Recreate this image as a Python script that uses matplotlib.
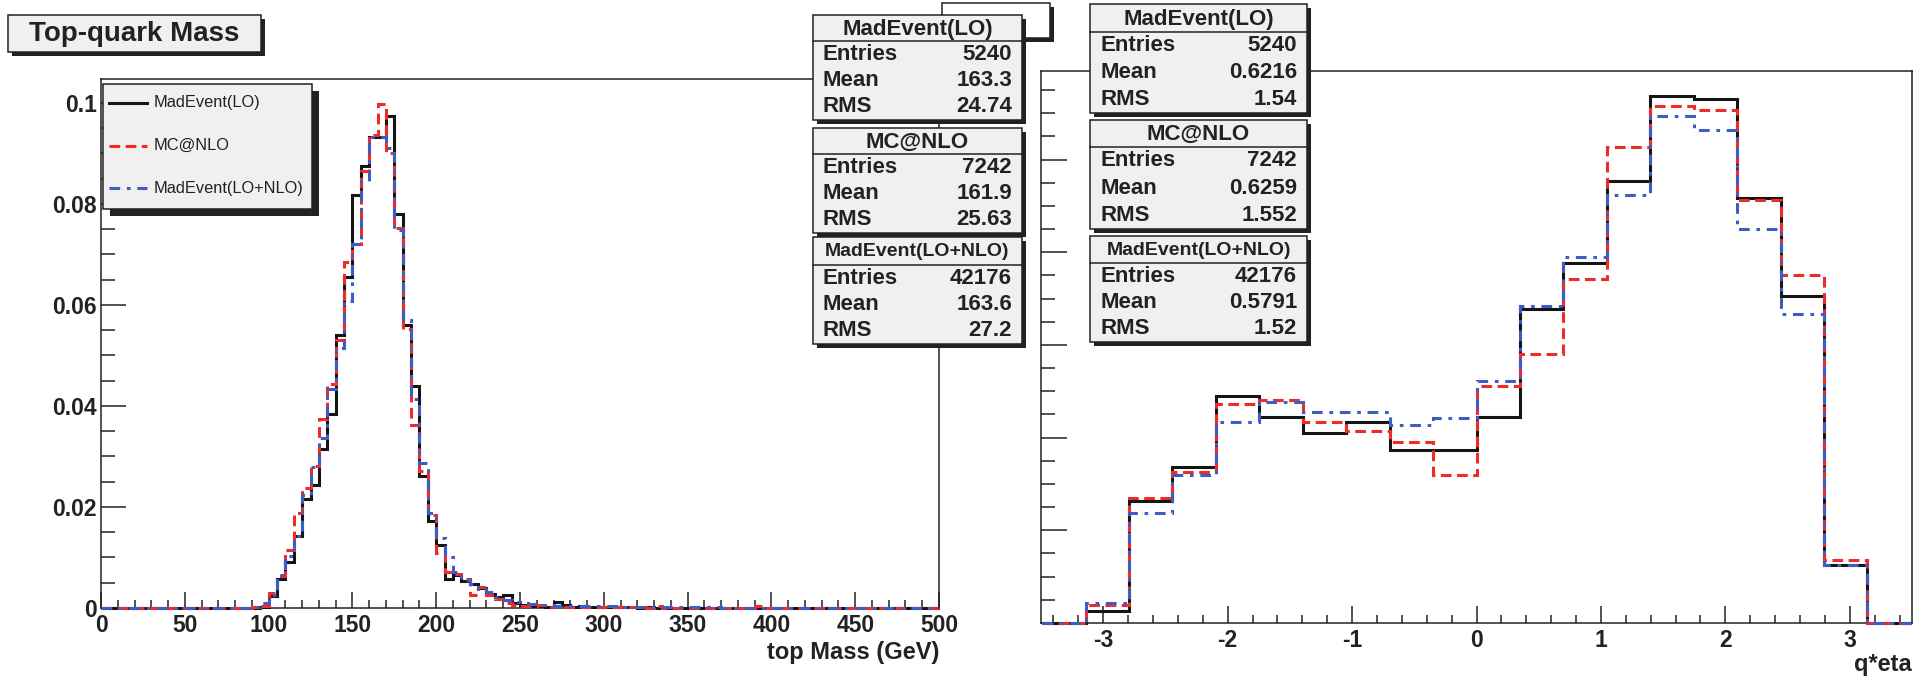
import numpy as np
import matplotlib
matplotlib.use("Agg")
import matplotlib.pyplot as plt
from matplotlib.patches import Rectangle
from matplotlib.lines import Line2D
from matplotlib.ticker import MultipleLocator, FuncFormatter

plt.rcParams['font.family'] = ['Liberation Sans', 'DejaVu Sans']
plt.rcParams['axes.unicode_minus'] = False

W, H = 1927, 679

# ---- data: top-quark mass, 5 GeV bins from 0 to 500 (normalised) ----
mass_edges = np.arange(0, 505, 5)
mass_lo = ([0] * 19 + [0.0002] +
           [0.0024, 0.0057, 0.0092, 0.0142, 0.0216, 0.0244, 0.0314, 0.0385, 0.0540, 0.0655] +
           [0.0818, 0.0875, 0.0932, 0.0932, 0.0975, 0.0780, 0.0561, 0.0439, 0.0261, 0.0172] +
           [0.0124, 0.0058, 0.0065, 0.0054, 0.0048, 0.0040, 0.0028, 0.0022, 0.0026, 0.0009] +
           [0.0005, 0.0003, 0.0003, 0.0002, 0.0012, 0.0005, 0.0002, 0.0004, 0.0002, 0.0001] +
           [0.0002, 0.0001, 0.0001, 0.0001, 0, 0.0001, 0, 0, 0, 0] +
           [0] * 30)
mass_nlo = ([0] * 18 + [0.0001, 0.0003] +
            [0.0030, 0.0063, 0.0114, 0.0188, 0.0238, 0.0282, 0.0375, 0.0444, 0.0530, 0.0685] +
            [0.0720, 0.0865, 0.0937, 0.0998, 0.0900, 0.0753, 0.0553, 0.0363, 0.0271, 0.0185] +
            [0.0108, 0.0072, 0.0068, 0.0058, 0.0025, 0.0042, 0.0025, 0.0017, 0.0009, 0.0005] +
            [0.0004, 0.0003, 0.0005, 0.0002, 0.0003, 0.0002, 0.0002, 0.0002, 0.0001, 0.0002] +
            [0.0001, 0.0001, 0.0001, 0.0001, 0.0001, 0, 0.0004, 0, 0, 0] +
            [0, 0, 0, 0, 0, 0, 0, 0, 0.0004, 0] +
            [0] * 20)
mass_lonlo = ([0] * 18 + [0.0002, 0.0010] +
              [0.0025, 0.0066, 0.0102, 0.0142, 0.0224, 0.0280, 0.0337, 0.0434, 0.0515, 0.0607] +
              [0.0720, 0.0845, 0.0932, 0.0932, 0.0910, 0.0749, 0.0570, 0.0413, 0.0287, 0.0188] +
              [0.0139, 0.0101, 0.0072, 0.0055, 0.0048, 0.0038, 0.0032, 0.0022, 0.0015, 0.0012] +
              [0.0009, 0.0007, 0.0005, 0.0005, 0.0004, 0.0004, 0.0004, 0.0004, 0.0003, 0.0003] +
              [0.0003, 0.0003, 0.0002, 0.0002, 0.0002, 0.0001, 0.0001, 0.0001, 0.0001, 0.0001] +
              [0.0001, 0.0001, 0.0001, 0.0001, 0, 0, 0, 0, 0, 0] +
              [0] * 20)

# ---- data: q*eta, 20 bins of pi/9 ----
eta_edges = np.linspace(-10 * np.pi / 9, 10 * np.pi / 9, 21)
eta_lo = [0, 0.0026, 0.0264, 0.0337, 0.0489, 0.0445, 0.0409, 0.0434, 0.0374, 0.0374,
          0.0445, 0.0677, 0.0777, 0.0954, 0.1137, 0.1130, 0.0917, 0.0705, 0.0126, 0]
eta_nlo = [0, 0.0038, 0.0269, 0.0326, 0.0472, 0.0482, 0.0434, 0.0414, 0.0391, 0.0319,
           0.0511, 0.0581, 0.0743, 0.1026, 0.1115, 0.1106, 0.0913, 0.0751, 0.0137, 0]
eta_lonlo = [0, 0.0043, 0.0238, 0.0319, 0.0434, 0.0477, 0.0455, 0.0455, 0.0428, 0.0443,
             0.0522, 0.0683, 0.0790, 0.0923, 0.1094, 0.1064, 0.0851, 0.0666, 0.0126, 0]

names = ['MadEvent(LO)', 'MC@NLO', 'MadEvent(LO+NLO)']
entries = [5240, 7242, 42176]
mass_mean = [163.3, 161.9, 163.6]
mass_rms = [24.74, 25.63, 27.2]
eta_mean = [0.6216, 0.6259, 0.5791]
eta_rms = [1.54, 1.552, 1.52]

colors = ['#151515', '#ee2b2b', '#3d5cc4']
styles = ['-', (0, (3.5, 1.8)), (0, (3.5, 2.2, 1.2, 2.2))]

def fx(x):
    return x / W

def fy(y):
    return 1 - y / H

fig = plt.figure(figsize=(W / 100, H / 100), dpi=100)
fig.patch.set_facecolor('white')

ax1 = fig.add_axes([fx(101), fy(608), fx(939) - fx(101), fy(79) - fy(608)])
ax2 = fig.add_axes([fx(1041), fy(623), fx(1912) - fx(1041), fy(71) - fy(623)])

for vals, c, ls in zip([mass_lo, mass_nlo, mass_lonlo], colors, styles):
    ax1.stairs(vals, mass_edges, baseline=None, color=c, linestyle=ls, linewidth=2.2,
               zorder=3, clip_on=False)
for vals, c, ls in zip([eta_lo, eta_nlo, eta_lonlo], colors, styles):
    ax2.stairs(vals, eta_edges, baseline=None, color=c, linestyle=ls, linewidth=2.2,
               zorder=3, clip_on=False)

ax1.set_xlim(0, 500)
ax1.set_ylim(0, 0.10475)
ax2.set_xlim(-3.5, 3.5)
ax2.set_ylim(0, 0.1191)

for ax in (ax1, ax2):
    for s in ax.spines.values():
        s.set_color('#222')
        s.set_linewidth(1.1)
    ax.tick_params(which='both', direction='in', color='#222', width=1.1,
                   labelsize=16.5, top=False, right=False)

ax1.xaxis.set_major_locator(MultipleLocator(50))
ax1.xaxis.set_minor_locator(MultipleLocator(10))
ax1.yaxis.set_major_locator(MultipleLocator(0.02))
ax1.yaxis.set_minor_locator(MultipleLocator(0.005))
ax1.yaxis.set_major_formatter(FuncFormatter(lambda v, p: f'{v:g}'))
ax1.tick_params(axis='y', which='major', length=18, pad=3)
ax1.tick_params(axis='y', which='minor', length=10)
ax1.tick_params(axis='x', which='major', length=11.5, pad=4)
ax1.tick_params(axis='x', which='minor', length=6)

ax2.xaxis.set_major_locator(MultipleLocator(1))
ax2.xaxis.set_minor_locator(MultipleLocator(0.2))
ax2.yaxis.set_major_locator(MultipleLocator(0.02))
ax2.yaxis.set_minor_locator(MultipleLocator(0.005))
ax2.xaxis.set_major_formatter(FuncFormatter(lambda v, p: f'{v:g}'))
ax2.tick_params(axis='y', which='major', length=19, labelleft=False)
ax2.tick_params(axis='y', which='minor', length=10)
ax2.tick_params(axis='x', which='major', length=12.5, pad=4)
ax2.tick_params(axis='x', which='minor', length=5.5)

for ax in (ax1, ax2):
    for lab in ax.get_xticklabels() + ax.get_yticklabels():
        lab.set_fontweight('bold')
        lab.set_color('#222')

fig.text(fx(939), fy(659), 'top Mass (GeV)', ha='right', va='baseline',
         fontsize=17, fontweight='bold', color='#222')
fig.text(fx(1912), fy(671), 'q*eta', ha='right', va='baseline',
         fontsize=17, fontweight='bold', color='#222')


def box(x0, y0, x1, y1, shadow, face='#f0f0f0'):
    fig.add_artist(Rectangle((fx(x0 + shadow), fy(y1 + shadow)), fx(x1 - x0), fy(y0) - fy(y1),
                             transform=fig.transFigure, facecolor='#222', edgecolor='none'))
    fig.add_artist(Rectangle((fx(x0), fy(y1)), fx(x1 - x0), fy(y0) - fy(y1),
                             transform=fig.transFigure, facecolor=face, edgecolor='#222',
                             linewidth=1.1))


def stats_box(x0, x1, top, sep, bottom, title, n, mean, rms, tsize):
    box(x0, top, x1, bottom, 4)
    fig.add_artist(Line2D([fx(x0), fx(x1)], [fy(sep), fy(sep)], transform=fig.transFigure,
                          color='#222', linewidth=1.1))
    fig.text(fx((x0 + x1) / 2), fy((top + sep) / 2 + 1), title, ha='center', va='center',
             fontsize=tsize, fontweight='bold', color='#222')
    step = (bottom - sep) / 3
    for k, (lab, v) in enumerate(zip(['Entries', 'Mean', 'RMS'], [n, mean, rms])):
        yc = fy(sep + (k + 0.5) * step)
        fig.text(fx(x0 + 10), yc, lab, ha='left', va='center', fontsize=16,
                 fontweight='bold', color='#222')
        fig.text(fx(x1 - 10), yc, f'{v:g}', ha='right', va='center', fontsize=16,
                 fontweight='bold', color='#222')


# title box of the left pad and empty title box of the right pad
box(8, 15, 261, 52, 4)
fig.text(fx(134), fy(34), 'Top-quark Mass', ha='center', va='center', fontsize=20,
         fontweight='bold', color='#222')
box(942, 3, 1050, 38, 4, face='white')

# legend
box(103, 84, 312, 209, 7)
for k, (c, ls, name) in enumerate(zip(colors, styles, names)):
    yy = fy(103 + k * 42.5)
    fig.add_artist(Line2D([fx(109), fx(147)], [yy, yy], transform=fig.transFigure,
                          color=c, linestyle=ls, linewidth=2.2))
    fig.text(fx(154), yy, name, ha='left', va='center', fontsize=11.8, color='#222')

# stats boxes
left_rows = [(15, 41, 120), (128, 154, 233), (237, 265, 344)]
right_rows = [(4, 32, 113), (120, 147, 229), (236, 263, 342)]
tsizes = [16, 16, 14]
for i in range(3):
    t, s, b = left_rows[i]
    stats_box(813, 1022, t, s, b, names[i], entries[i], mass_mean[i], mass_rms[i], tsizes[i])
    t, s, b = right_rows[i]
    stats_box(1090, 1307, t, s, b, names[i], entries[i], eta_mean[i], eta_rms[i], tsizes[i])

fig.savefig('out.png', dpi=100)
